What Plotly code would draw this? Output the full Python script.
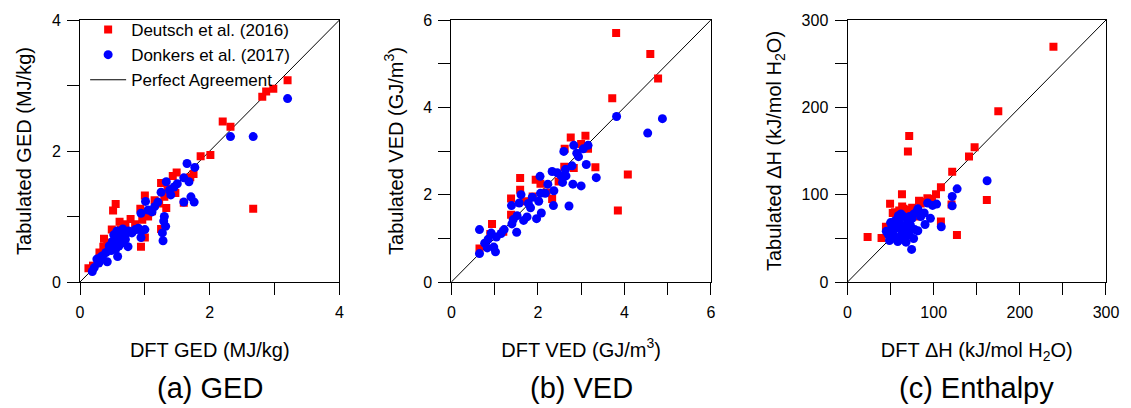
import plotly.graph_objects as go

# ---- Panel (a) GED ----
ged_deutsch_x = [3.20,2.98,2.87,2.81,2.20,2.32,2.01,1.86,2.67,1.49,1.43,1.75,1.70,1.25,1.47,1.00,0.55,0.51,0.61,0.78,0.93,0.99,0.49,0.37,0.36,0.94,1.00,0.13,1.60,1.25,1.22,1.33,1.11,0.96,0.20,0.30,0.42,0.70,0.85,1.05,1.15,1.30,1.35,0.63,0.45,0.55]
ged_deutsch_y = [3.08,2.95,2.91,2.83,2.45,2.37,1.94,1.92,1.12,1.67,1.62,1.65,1.60,1.51,1.36,1.32,1.19,1.09,0.92,0.96,1.12,1.05,0.80,0.66,0.54,0.54,0.68,0.21,1.21,0.81,1.20,1.13,1.08,0.95,0.25,0.45,0.55,0.88,0.88,1.00,1.25,1.30,1.42,0.80,0.60,0.70]
ged_donkers_x = [3.20,2.32,2.67,1.65,1.77,1.60,1.68,1.33,1.50,1.25,1.40,1.60,1.71,1.76,1.01,1.11,0.94,1.30,1.29,1.32,1.27,1.28,1.00,0.94,0.87,0.66,0.58,0.50,0.74,0.58,0.42,0.29,0.26,0.19,0.45,0.50,0.55,0.60,0.62,0.70,0.75,0.80,0.85,0.90,0.95,0.65,0.55,0.48,0.40,0.35,0.32,0.28,0.22,0.60,0.70,0.52,0.57,1.05,1.15,1.20,1.38,1.45]
ged_donkers_y = [2.80,2.22,2.22,1.81,1.75,1.59,1.53,1.53,1.50,1.37,1.33,1.22,1.30,1.22,1.23,1.07,1.05,1.00,0.93,0.85,0.75,0.63,0.80,0.68,0.80,0.81,0.70,0.62,0.54,0.39,0.31,0.29,0.35,0.16,0.55,0.60,0.65,0.70,0.75,0.72,0.78,0.75,0.80,0.82,0.78,0.60,0.50,0.48,0.45,0.40,0.38,0.30,0.22,0.55,0.65,0.72,0.78,1.10,1.15,1.22,1.40,1.45]

# ---- Panel (b) VED ----
ved_deutsch_x = [3.81,4.60,4.78,3.72,4.08,3.85,3.33,3.10,2.76,3.00,3.16,2.62,2.83,2.61,1.59,1.59,1.38,1.38,1.95,2.06,0.94,0.65,2.33,2.48,1.88,2.20,1.70,1.20,0.90]
ved_deutsch_y = [5.70,5.22,4.66,4.21,2.46,1.64,2.63,3.35,3.31,3.16,3.05,3.05,2.61,2.64,2.38,2.11,1.91,1.54,2.34,2.25,1.33,0.77,1.90,2.30,1.96,2.05,1.85,1.15,1.10]
ved_donkers_x = [3.82,4.88,4.54,3.35,3.00,2.81,2.72,3.12,3.16,2.83,2.60,2.94,2.79,2.64,2.65,2.54,2.57,2.33,2.37,2.36,2.05,2.23,2.17,2.06,2.02,2.08,1.97,1.87,1.83,1.75,1.67,1.61,1.57,1.52,1.43,1.39,1.40,1.51,1.22,1.15,1.04,0.92,0.85,0.77,0.65,0.65,0.98,1.02,0.83,2.90,3.05,2.45,1.78]
ved_donkers_y = [3.79,3.74,3.41,2.39,2.20,2.24,1.74,2.69,3.13,3.13,2.99,2.87,2.66,2.58,2.43,2.43,2.28,2.53,2.09,1.75,2.42,2.24,2.03,2.03,1.85,1.58,1.45,1.94,1.70,1.49,1.41,2.00,1.81,1.52,1.43,1.75,1.33,1.14,1.20,1.11,1.03,1.12,0.98,0.89,0.65,1.20,0.80,0.69,0.78,2.95,3.05,2.50,1.80]

# ---- Panel (c) Enthalpy ----
dh_deutsch_x = [239,175,147.5,141,121.5,108.4,102.7,92.7,83,71.6,70.1,63.2,49.4,161.7,127,108.4,120.7,23.3,39.5,44.6,52.5,63.4,71,80.6,67.2,48,55,60,65,75,58,70,85,90,98]
dh_deutsch_y = [269.5,195.6,154.4,143.7,126.2,108.6,100.6,96,93,167.3,149.4,100.6,89.6,93.8,53.8,69.3,88.8,51.5,50.3,63.3,78.9,86.4,82.6,74.9,55.9,59.7,80,82,84,85,70,75,90,92,95]
dh_donkers_x = [162,127.2,121.5,121.5,103.4,98.7,93,81.6,89,96.2,90,81.6,108.8,74.4,76.7,67.9,58.3,48.7,47,50,52,55,58,60,62,65,67,70,72,75,77,80,55,52,60,63,68,70,57,50,53,73,78,65,62,85,45,49,54,66,71,59]
dh_donkers_y = [115.9,106.7,97.9,87.2,89.2,87.7,90.4,83.8,79,72.9,65.9,58.7,63.3,37.3,49.8,45.6,46.4,47.5,55,60,65,70,72,68,62,58,65,70,75,73,78,80,52,50,50,55,52,60,62,68,58,65,60,75,78,75,58,52,62,48,55,76]

axis_max = [4, 6, 300]
major_step = [2, 2, 100]
minor_step = [1, 1, 50]
x_titles = ["DFT GED (MJ/kg)", "DFT VED (GJ/m<sup>3</sup>)", "DFT ΔH (kJ/mol H<sub>2</sub>O)"]
y_titles = ["Tabulated GED (MJ/kg)", "Tabulated VED (GJ/m<sup>3</sup>)", "Tabulated ΔH (kJ/mol H<sub>2</sub>O)"]
captions = ["(a) GED", "(b) VED", "(c) Enthalpy"]

RED = "#FF0000"
BLUE = "#0000FF"
FONT = "Liberation Sans, Arial, sans-serif"

W, H = 1131, 408
ML, MR, MT, MB = 80, 15, 20, 126
PW = W - ML - MR
PH = H - MT - MB
domains_px = [(80, 342), (455, 717), (855, 1116)]
domains = [((a - ML) / PW, (b - ML) / PW) for a, b in domains_px]

data = [
    (ged_deutsch_x, ged_deutsch_y, ged_donkers_x, ged_donkers_y),
    (ved_deutsch_x, ved_deutsch_y, ved_donkers_x, ved_donkers_y),
    (dh_deutsch_x, dh_deutsch_y, dh_donkers_x, dh_donkers_y),
]

fig = go.Figure()
layout = dict(
    width=W, height=H,
    margin=dict(l=ML, r=MR, t=MT, b=MB),
    paper_bgcolor="white", plot_bgcolor="white",
    font=dict(family=FONT, size=16, color="black"),
    showlegend=True,
    legend=dict(x=0.005, y=1 + 8 / PH, xanchor="left", yanchor="top", bgcolor="rgba(0,0,0,0)",
                font=dict(size=17), tracegroupgap=0, itemwidth=36, borderwidth=0),
    annotations=[],
)

for i in range(3):
    sfx = "" if i == 0 else str(i + 1)
    xa, ya = "x" + sfx, "y" + sfx
    dx, dy, nx, ny = data[i]
    m = axis_max[i]
    fig.add_trace(go.Scatter(x=[0, m], y=[0, m], mode="lines", line=dict(color="black", width=1),
                             xaxis=xa, yaxis=ya, name="Perfect Agreement", showlegend=(i == 0),
                             legendrank=3, hoverinfo="skip"))
    fig.add_trace(go.Scatter(x=dx, y=dy, mode="markers", xaxis=xa, yaxis=ya,
                             marker=dict(symbol="square", size=8, color=RED, line=dict(width=0)),
                             name="Deutsch et al. (2016)", showlegend=(i == 0), legendrank=1))
    fig.add_trace(go.Scatter(x=nx, y=ny, mode="markers", xaxis=xa, yaxis=ya,
                             marker=dict(symbol="circle", size=9, color=BLUE, line=dict(width=0)),
                             name="Donkers et al. (2017)", showlegend=(i == 0), legendrank=2))
    common = dict(range=[0, m], showgrid=False, zeroline=False, showline=True, linecolor="black",
                  linewidth=1, mirror=True, ticks="outside", ticklen=12, tickwidth=1, tickcolor="black",
                  tickmode="linear", tick0=0, dtick=major_step[i],
                  minor=dict(ticks="outside", ticklen=12, tickwidth=1, tickcolor="black",
                             tickmode="linear", tick0=0, dtick=minor_step[i], showgrid=False),
                  tickfont=dict(size=16), fixedrange=True)
    layout["xaxis" + sfx] = dict(common, domain=list(domains[i]), anchor=ya, ticklabelstandoff=4,
                                 title=dict(text=x_titles[i], font=dict(size=20), standoff=22))
    layout["yaxis" + sfx] = dict(common, domain=[0, 1], anchor=xa, ticklabelstandoff=3,
                                 title=dict(text=y_titles[i], font=dict(size=20), standoff=14))
    cx = (domains[i][0] + domains[i][1]) / 2
    layout["annotations"].append(dict(text=captions[i], xref="paper", yref="paper", x=cx, y=-(388 - 282) / PH,
                                      xanchor="center", yanchor="middle", showarrow=False,
                                      font=dict(size=29, family=FONT)))

fig.update_layout(**layout)
fig.write_html("out.html")
